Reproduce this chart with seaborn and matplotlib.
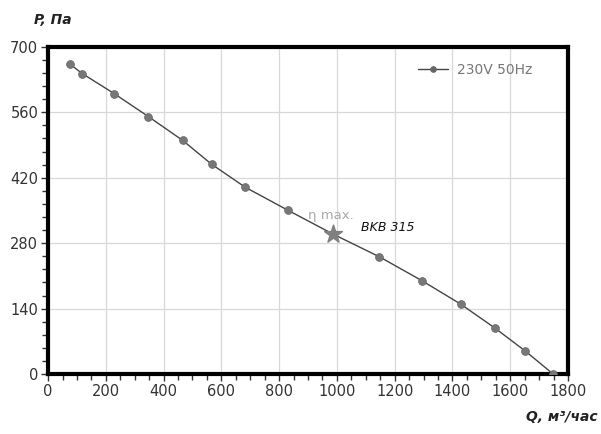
import matplotlib
matplotlib.use("Agg")
import matplotlib.pyplot as plt
import seaborn as sns
import pandas as pd
from matplotlib.ticker import MultipleLocator

# Характеристика вентилятора ВКВ 315
q = [76, 118, 229, 347, 466, 566, 682, 829, 985, 1147, 1294, 1428, 1546, 1653, 1749]
p = [663, 643, 600, 551, 500, 449, 400, 351, 300, 251, 200, 150, 99, 49, 0]
q_eta = [985]
p_eta = [300]
serie = "230V 50Hz"

df = pd.DataFrame({"Q": q, "P": p})
df_marker = df.drop(index=8)  # в точке η max вместо кружка звезда

sns.set_theme(style="whitegrid")
plt.rcParams["font.family"] = ["DejaVu Sans"]

fig = plt.figure(figsize=(6.01, 4.34), dpi=100)
ax = fig.add_axes([0.080, 0.138, 0.865, 0.754])

sns.lineplot(data=df, x="Q", y="P", color="#444444", linewidth=1.0, ax=ax, label=serie,
             marker="o", markersize=4, markerfacecolor="#666666", markeredgecolor="#666666")
sns.scatterplot(data=df_marker, x="Q", y="P", color="#777777", s=32, edgecolor="#666666",
                linewidth=0.5, ax=ax, zorder=3)
sns.scatterplot(x=q_eta, y=p_eta, marker="*", s=180, color="#808080", edgecolor="#808080", ax=ax, zorder=4)

ax.text(q_eta[0] - 5, p_eta[0] + 26, "η max.", color="#aaaaaa", fontsize=9.5, ha="center", va="bottom")
ax.text(q_eta[0] + 100, p_eta[0] + 14, "BKB 315", color="#111111", fontsize=9, style="italic", ha="left", va="center")

ax.set_xlim(0, 1800)
ax.set_ylim(0, 700)
ax.xaxis.set_major_locator(MultipleLocator(200))
ax.xaxis.set_minor_locator(MultipleLocator(50))
ax.yaxis.set_major_locator(MultipleLocator(140))
ax.yaxis.set_minor_locator(MultipleLocator(28))
ax.grid(True, which="major", color="#d8d8d8", linewidth=0.9)
ax.grid(False, which="minor")
ax.set_facecolor("white")
for s in ax.spines.values():
    s.set_visible(True)
    s.set_color("black")
    s.set_linewidth(3)
ax.tick_params(which="major", direction="out", length=5, width=1, color="#333333",
               labelsize=10.5, labelcolor="#333333", left=True, bottom=True, pad=2)
ax.tick_params(which="minor", direction="out", length=4, width=1, color="#333333", left=True, bottom=True)

ax.set_xlabel("")
ax.set_ylabel("")
fig.text(0.057, 0.955, "P, Па", fontsize=10, fontweight="bold", style="italic", color="#222222", ha="left", va="center")
fig.text(0.995, 0.04, "Q, м³/час", fontsize=10, fontweight="bold", style="italic", color="#222222", ha="right", va="center")

leg = ax.legend(loc="upper right", bbox_to_anchor=(0.955, 0.99), frameon=False, fontsize=10,
                handlelength=2.2, handletextpad=0.6)
for t in leg.get_texts():
    t.set_color("#777777")

fig.savefig("out.png", dpi=100)
